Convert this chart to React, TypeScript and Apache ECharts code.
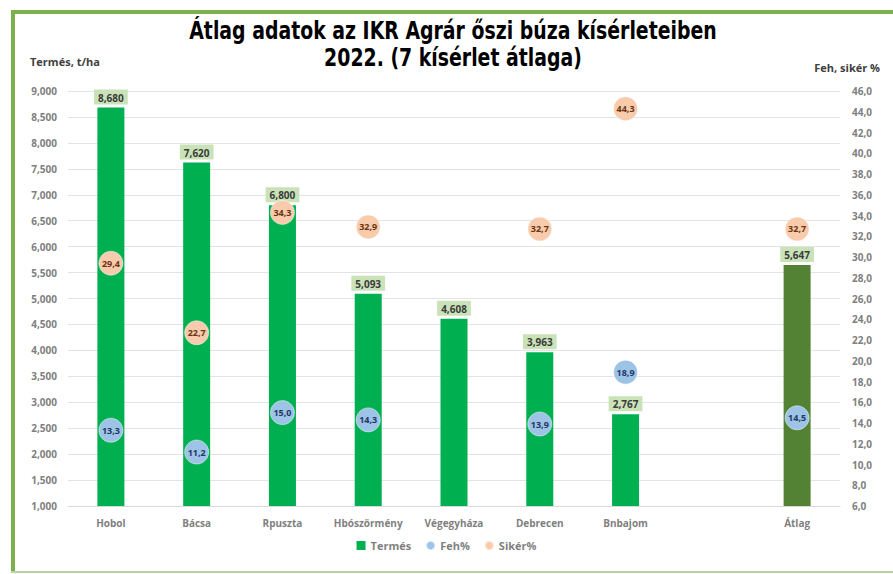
import React, { useEffect, useRef } from "react";
import * as echarts from "echarts";

const categories = ["Hobol", "Bácsa", "Rpuszta", "Hbószörmény", "Végegyháza", "Debrecen", "Bnbajom", "", "Átlag"];
const termes: (number | null)[] = [8.68, 7.62, 6.8, 5.093, 4.608, 3.963, 2.767, null, 5.647];
const feh: (number | null)[] = [13.3, 11.2, 15.0, 14.3, null, 13.9, 18.9, null, 14.5];
const siker: (number | null)[] = [29.4, 22.7, 34.3, 32.9, null, 32.7, 44.3, null, 32.7];
const titleLines = ["Átlag adatok az IKR Agrár őszi búza kísérleteiben", "2022. (7 kísérlet átlaga)"];

const fmt = (v: number, d: number) => v.toFixed(d).replace(".", ",");

export default function App() {
  const ref = useRef<HTMLDivElement>(null);
  useEffect(() => {
    if (!ref.current) return;
    const chart = echarts.init(ref.current, null, { renderer: "svg" });
    const font = "'Open Sans', 'Noto Sans', sans-serif";
    const gray = "#7f7f7f";
    chart.setOption({
      animation: false,
      backgroundColor: "#ffffff",
      grid: { left: 68, right: 53, top: 91, bottom: 68 },
      graphic: [
        { type: "rect", left: 11, top: 10, shape: { width: 4, height: 562 }, style: { fill: "#7cb04a" } },
        { type: "rect", left: 11, top: 10, shape: { width: 882, height: 4 }, style: { fill: "#7cb04a" } },
        { type: "rect", left: 11, top: 571, shape: { width: 882, height: 2 }, style: { fill: "#b8d49c" } },
        {
          type: "text", x: 453, y: 17, scaleX: 0.84,
          style: {
            text: titleLines.join("\n"), textAlign: "center", fill: "#000",
            font: "bold 25px 'Liberation Sans Narrow', 'DejaVu Sans Condensed', sans-serif",
            lineHeight: 27,
          },
        },
        {
          type: "text", x: 30, y: 56,
          style: { text: "Termés, t/ha", fill: "#404040", font: `bold 11px ${font}` },
        },
        {
          type: "text", x: 880, y: 62,
          style: { text: "Feh, sikér %", textAlign: "right", fill: "#404040", font: `bold 11px ${font}` },
        },
      ],
      legend: {
        bottom: 18,
        left: "center",
        itemWidth: 9,
        itemHeight: 9,
        itemGap: 14,
        textStyle: { color: gray, fontFamily: font, fontWeight: "bold", fontSize: 11 },
        data: [
          { name: "Termés", icon: "rect" },
          { name: "Feh%", icon: "circle" },
          { name: "Sikér%", icon: "circle" },
        ],
      },
      xAxis: {
        type: "category",
        data: categories,
        axisTick: { show: false },
        axisLine: { lineStyle: { color: "#d9d9d9" } },
        axisLabel: { color: gray, fontFamily: font, fontWeight: "bold", fontSize: 10, margin: 12, interval: 0 },
      },
      yAxis: [
        {
          type: "value", min: 1, max: 9, interval: 0.5,
          axisLine: { show: false }, axisTick: { show: false },
          splitLine: { lineStyle: { color: "#e3e3e3" } },
          axisLabel: { color: gray, fontFamily: font, fontWeight: "bold", fontSize: 10, margin: 11, formatter: (v: number) => fmt(v, 3) },
        },
        {
          type: "value", min: 6, max: 46, interval: 2,
          axisLine: { show: false }, axisTick: { show: false },
          splitLine: { show: false },
          axisLabel: { color: gray, fontFamily: font, fontWeight: "bold", fontSize: 10, margin: 12, formatter: (v: number) => fmt(v, 1) },
        },
      ],
      series: [
        {
          name: "Termés", type: "bar", barWidth: 27, yAxisIndex: 0,
          itemStyle: { color: "#00b050" },
          data: termes.map((v, i) => ({
            value: v,
            itemStyle: { color: categories[i] === "Átlag" ? "#548235" : "#00b050" },
          })),
          label: {
            show: true, position: "top", distance: 3,
            backgroundColor: "#c9e2b8", padding: [3, 4, 2, 4],
            color: "#3b3b3b", fontFamily: font, fontWeight: "bold", fontSize: 10,
            formatter: (p: any) => (p.value == null ? "" : fmt(p.value, 3)),
          },
        },
        {
          name: "Feh%", type: "scatter", yAxisIndex: 1, symbolSize: 24, z: 3,
          itemStyle: { color: "#9dc3e6", opacity: 1, borderColor: "rgba(255,255,255,0.5)", borderWidth: 1 },
          data: feh,
          label: {
            show: true, position: "inside",
            color: "#1f3864", fontFamily: font, fontWeight: "bold", fontSize: 9,
            formatter: (p: any) => fmt(p.value, 1),
          },
        },
        {
          name: "Sikér%", type: "scatter", yAxisIndex: 1, symbolSize: 24, z: 3,
          itemStyle: { color: "#f8cbad", opacity: 1, borderColor: "rgba(255,255,255,0.5)", borderWidth: 1 },
          data: siker,
          label: {
            show: true, position: "inside",
            color: "#6b3410", fontFamily: font, fontWeight: "bold", fontSize: 9,
            formatter: (p: any) => fmt(p.value, 1),
          },
        },
      ],
    });
    return () => chart.dispose();
  }, []);
  return <div ref={ref} style={{ position: "absolute", left: 0, top: 0, width: 893, height: 574 }} />;
}
